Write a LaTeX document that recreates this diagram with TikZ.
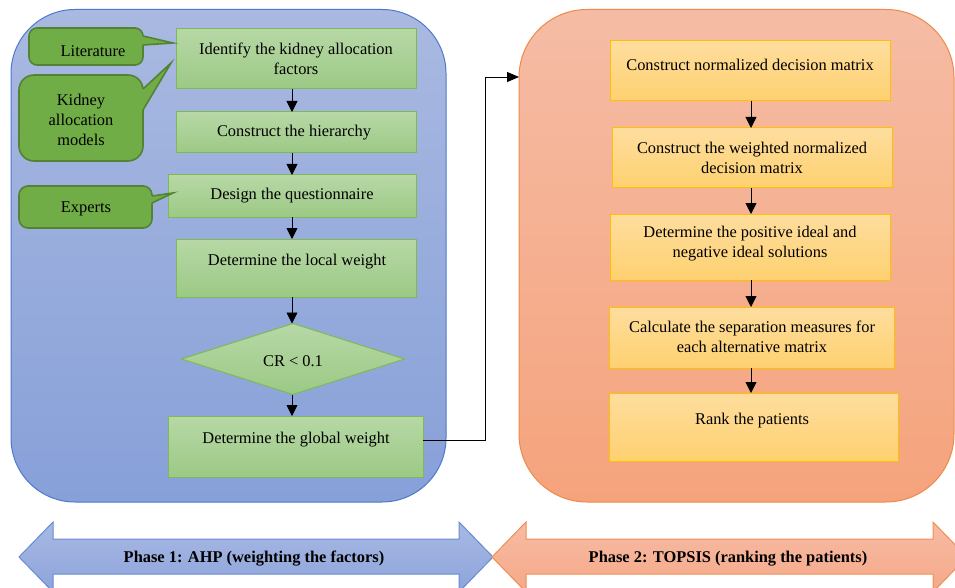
\documentclass[tikz,border=0pt]{standalone}
\usepackage{fontspec}
\setmainfont{Liberation Serif}
\usetikzlibrary{arrows.meta,shapes.geometric,calc}
\definecolor{bpanT}{HTML}{A9B9E1}
\definecolor{bpanB}{HTML}{87A0D8}
\definecolor{bpanD}{HTML}{4F78CC}
\definecolor{opanT}{HTML}{F5BCA5}
\definecolor{opanB}{HTML}{F5A37C}
\definecolor{opanD}{HTML}{EE8A48}
\definecolor{gbT}{HTML}{B7D8A6}
\definecolor{gbB}{HTML}{9CC985}
\definecolor{gbD}{HTML}{7DBA55}
\definecolor{coF}{HTML}{70AD47}
\definecolor{coD}{HTML}{548235}
\definecolor{obT}{HTML}{FEDD9E}
\definecolor{obB}{HTML}{FED170}
\definecolor{obD}{HTML}{FFC000}
\definecolor{barT}{HTML}{A8B9E3}
\definecolor{barB}{HTML}{8DA3DB}
\definecolor{barD}{HTML}{6A8BD5}
\definecolor{oarT}{HTML}{F7BCA4}
\definecolor{oarB}{HTML}{F5A888}
\definecolor{oarD}{HTML}{F08F55}
\begin{document}
\begin{tikzpicture}[x=1pt,y=-1pt,
  txt/.style={font=\fontsize{16.4}{20}\selectfont, align=center, inner sep=0pt, yshift=-2pt},
  btxt/.style={font=\fontsize{16.4}{20}\selectfont\bfseries, align=center, inner sep=0pt, yshift=-2pt},
  gbox/.style={draw=gbD, line width=1pt, top color=gbT, bottom color=gbB, inner sep=0pt, outer sep=0pt},
  obox/.style={draw=obD, line width=1pt, top color=obT, bottom color=obB, inner sep=0pt, outer sep=0pt},
  callout/.style={draw=coD, line width=1.6pt, fill=coF, inner sep=0pt, outer sep=0pt},
  ptrfill/.style={fill=coF},
  ptrline/.style={draw=coD, line width=1.6pt, line join=miter},
  arr/.style={-{Triangle[length=11pt,width=11pt]}, line width=0.8pt, black},
  conn/.style={-{Triangle[length=12pt,width=10pt]}, line width=0.8pt, black}
]
\clip (0,0) rectangle (955,588);
\fill[white] (0,0) rectangle (955,588);
% panels
\path[draw=bpanD, line width=1pt, top color=bpanT, bottom color=bpanB, rounded corners=64pt]
  (11,9.5) rectangle (446,502);
\path[draw=opanD, line width=1pt, top color=opanT, bottom color=opanB, rounded corners=68pt]
  (519,9.5) rectangle (954,502);
% green boxes
\node[gbox, minimum width=240pt, minimum height=60pt] (g1) at (296,59) {};
\node[gbox, minimum width=240pt, minimum height=41pt] (g2) at (296,132.5) {};
\node[gbox, minimum width=248pt, minimum height=42pt] (g3) at (292,196) {};
\node[gbox, minimum width=240pt, minimum height=58pt] (g4) at (296,268) {};
\node[gbox, diamond, aspect=3.14, minimum width=223pt, minimum height=71pt] (g5) at (293,359) {};
\node[gbox, minimum width=255pt, minimum height=61pt] (g6) at (295.5,446.5) {};
\node[txt] (t1) at (296,57) {Identify the kidney allocation\\factors};
\node[txt] (t2) at (294,131) {Construct the hierarchy};
\node[txt] (t3) at (292,194) {Design the questionnaire};
\node[txt] (t4) at (297,260) {Determine the local weight};
\node[txt] (t5) at (293,359) {CR < 0.1};
\node[txt] (t6) at (296,438) {Determine the global weight};
% callouts
\node[callout, rounded corners=8pt, minimum width=114pt, minimum height=37pt] (c1) at (86,46.5) {};
\node[callout, rounded corners=15pt, minimum width=124pt, minimum height=86pt] (c2) at (81,118) {};
\node[callout, rounded corners=9pt, minimum width=133pt, minimum height=42pt] (c3) at (85.5,207) {};
\coordinate (p1) at (173,43);
\coordinate (p2) at (171,63);
\coordinate (p3) at (173,193);
\fill[ptrfill] (139,36) -- (143,36) -- (p1) -- (143,45) -- (139,45) -- cycle;
\draw[ptrline] (143,36) -- (p1) -- (143,45);
\fill[ptrfill] (139,89) -- (143,89) -- (p2) -- (143,110) -- (139,110) -- cycle;
\draw[ptrline] (143,89) -- (p2) -- (143,110);
\fill[ptrfill] (148,196) -- (152,196) -- (p3) -- (152,203) -- (148,203) -- cycle;
\draw[ptrline] (152,196) -- (p3) -- (152,203);
\node[txt] (ct1) at (93,49) {Literature};
\node[txt] (ct2) at (81,118) {Kidney\\allocation\\models};
\node[txt] (ct3) at (86,207) {Experts};
% arrows left
\coordinate (ax) at (292,0);
\draw[arr] (g1.south -| ax) -- (g2.north -| ax);
\draw[arr] (g2.south -| ax) -- (g3.north -| ax);
\draw[arr] (g3.south -| ax) -- (g4.north -| ax);
\draw[arr] (g4.south -| ax) -- (g5.north -| ax);
\draw[arr] (g5.south -| ax) -- (g6.north -| ax);
% orange boxes
\node[obox, minimum width=280pt, minimum height=60pt] (o1) at (750,71) {};
\node[obox, minimum width=280pt, minimum height=60pt] (o2) at (752,158) {};
\node[obox, minimum width=280pt, minimum height=66pt] (o3) at (750,247) {};
\node[obox, minimum width=285pt, minimum height=61pt] (o4) at (751.5,337.5) {};
\node[obox, minimum width=289pt, minimum height=68pt] (o5) at (753.5,427) {};
\node[txt] (u1) at (750,63) {Construct normalized decision matrix};
\node[txt] (u2) at (752,156) {Construct the weighted normalized\\decision matrix};
\node[txt] (u3) at (750,242) {Determine the positive ideal and\\negative ideal solutions};
\node[txt] (u4) at (752,335) {Calculate the separation measures for\\each alternative matrix};
\node[txt] (u5) at (752,419) {Rank the patients};
\coordinate (bx) at (751,0);
\draw[arr] (o1.south -| bx) -- (o2.north -| bx);
\draw[arr] (o2.south -| bx) -- (o3.north -| bx);
\draw[arr] (o3.south -| bx) -- (o4.north -| bx);
\draw[arr] (o4.south -| bx) -- (o5.north -| bx);
% connector
\coordinate (jn) at (485,77);
\coordinate (ent) at (519,77);
\draw[conn] (t6 -| g6.east) -| (jn) -- (ent);
% bottom arrows
\path[draw=barD, line width=1pt, top color=barT, bottom color=barB]
  (19,557) -- (53,522) -- (53,539) -- (459,539) -- (459,522) -- (493,557) -- (459,592) -- (459,574)
  -- (53,574) -- (53,592) -- cycle;
\path[draw=oarD, line width=1pt, top color=oarT, bottom color=oarB]
  (492,557) -- (526,522) -- (526,539) -- (933,539) -- (933,522) -- (967,557) -- (933,592) -- (933,574)
  -- (526,574) -- (526,592) -- cycle;
\node[btxt] (ph1) at (254,557) {Phase 1: AHP (weighting the factors)};
\node[btxt] (ph2) at (728,557) {Phase 2: TOPSIS (ranking the patients)};
\end{tikzpicture}
\end{document}
